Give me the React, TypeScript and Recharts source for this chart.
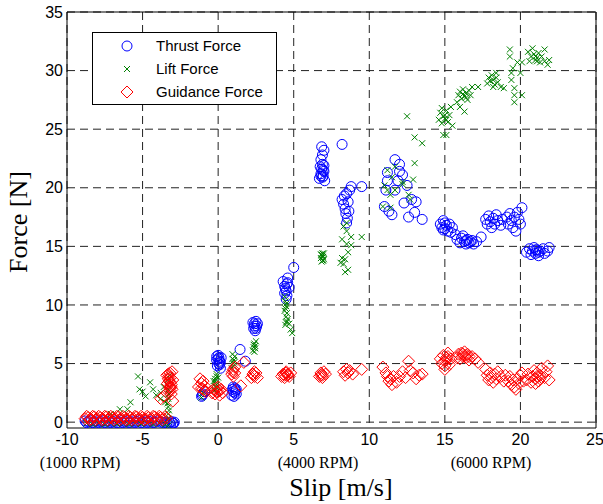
import {
  CartesianGrid,
  ReferenceLine,
  Scatter,
  ScatterChart,
  XAxis,
  YAxis,
} from "recharts";

// [slip m/s, force N]
const thrustForce: [number, number][] = [
  [-8.8, 0.1], [-8.6, 0.05], [-8.4, 0.12], [-8.2, 0.0], [-8.0, 0.1], [-7.8, 0.05],
  [-7.6, 0.12], [-7.4, 0.0], [-7.2, 0.1], [-7.0, 0.05], [-6.8, 0.1], [-6.6, 0.0],
  [-6.4, 0.12], [-6.2, 0.05], [-6.0, 0.1], [-5.8, 0.0], [-5.6, 0.1], [-5.4, 0.05],
  [-5.2, 0.12], [-5.0, 0.0], [-4.8, 0.1], [-4.6, 0.05], [-4.4, 0.1], [-4.2, 0.0],
  [-4.0, 0.1], [-3.8, 0.0], [-3.6, -0.05], [-3.4, -0.1], [-3.2, -0.05], [-3.0, -0.1],
  [-2.9, 0.0], [-3.1, 0.05], [-3.3, -0.15], [-3.5, 0.0], [-3.15, -0.2], [-2.95, -0.1],
  [-8.7, -0.05], [-8.3, -0.05], [-7.9, -0.05], [-7.5, -0.05], [-7.1, -0.05], [-6.7, -0.05],
  [-6.3, -0.05], [-5.9, -0.05], [-5.5, -0.05], [-5.1, -0.05], [-4.7, -0.05], [-4.3, -0.05],
  [-1.1, 2.2], [-1.0, 2.4], [-0.9, 2.6], [-1.05, 2.3],
  [-0.1, 5.6], [0.0, 5.4], [0.1, 5.2], [0.05, 5.0], [-0.05, 4.8], [0.15, 4.6],
  [0.0, 5.7], [0.2, 5.5], [0.1, 4.9], [-0.1, 5.3], [0.05, 5.5], [0.15, 5.1],
  [0.9, 2.3], [1.0, 2.6], [1.1, 2.9], [1.2, 2.4], [1.05, 2.2], [1.15, 2.7], [1.0, 3.0],
  [0.95, 2.8], [1.1, 2.5], [1.2, 2.8],
  [1.45, 6.2], [1.8, 5.2],
  [2.3, 8.5], [2.4, 8.2], [2.5, 8.0], [2.45, 7.8], [2.6, 8.4], [2.35, 8.0], [2.5, 8.6],
  [2.4, 8.4], [2.55, 8.2],
  [4.3, 12.0], [4.4, 11.6], [4.5, 11.2], [4.55, 10.8], [4.6, 12.3], [4.4, 11.0],
  [4.7, 11.5], [4.5, 10.5], [4.6, 11.9], [5.0, 13.2], [4.45, 11.4], [4.55, 11.8],
  [6.7, 20.8], [6.8, 21.2], [6.85, 21.6], [6.9, 22.0], [6.95, 21.0], [7.0, 21.4],
  [6.8, 22.4], [6.9, 22.8], [7.0, 23.2], [6.85, 23.5], [7.05, 20.6], [6.75, 21.8],
  [6.9, 20.9], [6.95, 21.5], [6.8, 21.0], [7.0, 21.9],
  [8.2, 23.7],
  [8.2, 19.0], [8.3, 18.6], [8.4, 18.2], [8.5, 19.5], [8.6, 18.8], [8.45, 17.8],
  [8.55, 17.4], [8.7, 19.8], [8.8, 20.1], [8.5, 17.0], [8.35, 19.3], [8.65, 18.0],
  [9.5, 20.1],
  [11.0, 18.4], [11.1, 19.8], [11.2, 20.6], [11.3, 18.0], [11.5, 17.7], [11.7, 19.8],
  [11.7, 22.4], [11.9, 20.6], [12.0, 21.4], [12.2, 21.1], [12.3, 18.7], [12.5, 20.2],
  [12.6, 17.5], [12.8, 19.0], [13.0, 17.9], [13.1, 18.8], [13.5, 17.3], [11.2, 21.3],
  [12.0, 22.0],
  [14.7, 16.9], [14.8, 16.6], [14.9, 17.2], [15.0, 16.5], [15.1, 16.8], [15.2, 16.3],
  [15.3, 16.9], [15.4, 16.2], [15.5, 16.6], [15.7, 16.0], [14.9, 16.4], [15.0, 17.0],
  [15.8, 15.6], [16.0, 15.3], [16.1, 15.7], [16.3, 15.4], [16.4, 15.2], [16.5, 15.6],
  [16.6, 15.3], [16.8, 15.5], [16.9, 15.2], [17.1, 15.4], [17.4, 15.8], [16.2, 15.9],
  [16.4, 15.5], [16.7, 15.4],
  [17.7, 17.3], [17.8, 16.9], [17.9, 17.6], [18.0, 17.1], [18.1, 16.6], [18.2, 17.4],
  [18.3, 16.9], [18.4, 17.7], [18.5, 17.2], [18.7, 16.8], [18.8, 17.3],
  [19.1, 17.5], [19.2, 16.9], [19.3, 17.8], [19.4, 17.2], [19.5, 16.6], [19.6, 17.5],
  [19.7, 16.3], [19.8, 17.9], [20.0, 16.9], [20.1, 18.3], [19.9, 17.3],
  [20.4, 14.5], [20.6, 14.8], [20.7, 14.3], [20.8, 14.6], [20.9, 14.9], [21.0, 14.4],
  [21.1, 14.7], [21.2, 14.2], [21.3, 14.6], [21.5, 14.8], [21.6, 14.4], [21.8, 14.6],
  [21.9, 14.9], [21.0, 14.7], [21.2, 14.5],
];

const liftForce: [number, number][] = [
  [-8.7, -0.1], [-8.3, -0.2], [-7.9, -0.1], [-7.5, -0.2], [-7.1, -0.1], [-6.7, -0.15],
  [-6.3, -0.1], [-5.9, -0.2], [-5.5, -0.1], [-5.1, -0.15], [-4.7, -0.1], [-4.3, -0.2],
  [-3.9, -0.1], [-3.5, -0.2], [-3.3, -0.3],
  [-7.1, 0.7], [-6.5, 1.1], [-6.0, 1.1], [-5.8, 1.7], [-5.3, 3.9], [-5.2, 2.8],
  [-5.0, 2.6], [-4.8, 2.2], [-4.5, 3.4], [-4.3, 2.8], [-4.1, 2.3], [-3.8, 2.5],
  [-3.8, 2.0], [-3.5, 1.7], [-3.6, 3.0],
  [-3.3, 0.3], [-3.3, 0.7], [-3.25, 1.0], [-3.3, 1.3], [-3.35, 1.6], [-3.3, 2.0],
  [-3.25, 2.4], [-3.3, 2.8], [-3.35, 3.2], [-3.3, 3.6], [-3.2, 4.0],
  [-1.0, 2.5], [-1.1, 2.1], [-0.3, 3.5], [-0.2, 3.7], [-0.1, 3.9], [-0.2, 3.3],
  [-0.15, 3.0], [-0.25, 2.7], [0.0, 3.8], [-0.1, 4.1], [-0.2, 3.5], [-0.1, 3.2],
  [0.9, 4.6], [1.0, 5.0], [1.05, 5.3], [1.1, 5.6], [0.95, 5.8], [1.0, 4.8],
  [1.05, 5.1], [0.95, 5.4],
  [2.3, 6.1], [2.35, 6.4], [2.4, 6.7], [2.45, 6.3], [2.5, 6.9], [2.4, 6.0],
  [2.35, 6.6], [2.45, 6.5],
  [4.4, 10.7], [4.45, 10.3], [4.5, 9.9], [4.4, 9.5], [4.5, 9.0], [4.55, 8.6],
  [4.45, 8.3], [4.6, 8.8], [4.7, 8.4], [4.8, 7.9], [4.9, 7.6], [4.5, 10.1],
  [4.45, 9.7], [4.55, 9.3], [4.5, 8.5],
  [6.8, 14.0], [6.85, 14.3], [6.9, 13.8], [6.95, 14.1], [7.0, 14.4], [6.85, 13.7],
  [6.9, 14.2], [6.8, 14.3], [7.0, 13.9], [6.95, 13.8], [6.9, 14.4],
  [8.5, 17.0], [8.3, 16.7], [8.2, 15.6], [8.5, 15.2], [8.8, 15.1], [8.2, 14.0],
  [8.4, 13.9], [8.3, 13.5], [8.6, 13.0], [8.1, 13.6], [8.8, 15.8], [9.5, 15.8],
  [8.5, 16.3], [8.6, 14.5], [8.4, 12.8],
  [12.5, 26.1], [13.0, 24.3], [13.5, 23.8], [13.0, 22.1], [12.9, 20.7], [11.2, 21.5],
  [11.7, 21.8], [11.2, 19.8], [11.4, 19.4], [12.2, 20.5], [12.2, 20.3], [11.7, 19.8],
  [12.6, 19.4], [12.7, 19.0], [10.9, 18.4], [11.4, 18.3], [11.0, 20.2], [11.5, 20.9],
  [14.6, 25.8], [14.7, 26.4], [14.8, 25.5], [14.9, 26.1], [15.0, 25.9], [15.1, 26.6],
  [15.2, 25.6], [15.3, 26.2], [15.5, 25.3], [14.8, 26.8], [14.9, 24.5], [15.1, 24.5],
  [15.4, 26.9], [15.0, 26.2], [15.1, 25.8],
  [15.8, 27.3], [15.9, 27.9], [16.0, 28.2], [16.1, 27.6], [16.2, 28.4], [16.3, 27.8],
  [16.4, 28.1], [16.5, 27.5], [16.6, 28.3], [16.7, 27.9], [16.8, 28.6], [16.3, 26.5],
  [16.0, 26.9], [17.2, 28.6], [16.2, 28.0], [16.4, 27.7],
  [17.8, 28.9], [17.9, 29.4], [18.0, 29.1], [18.1, 29.6], [18.2, 29.2], [18.3, 28.8],
  [18.4, 29.4], [18.5, 29.0], [18.7, 28.6], [18.9, 28.5], [18.4, 29.8], [18.2, 28.6],
  [19.3, 31.8], [19.3, 31.2], [19.4, 29.8], [19.4, 29.2], [19.6, 28.5], [19.6, 27.9],
  [19.6, 27.3], [20.1, 27.9], [19.8, 30.7], [20.1, 30.7], [20.0, 29.8], [19.5, 30.2],
  [20.5, 31.6], [20.6, 30.8], [20.7, 31.2], [20.8, 31.9], [20.9, 31.4], [21.0, 30.9],
  [21.1, 31.1], [21.2, 31.5], [21.3, 30.7], [21.4, 31.2], [21.6, 30.8], [21.6, 31.8],
  [21.8, 30.5], [21.9, 30.9], [21.0, 31.2], [21.1, 30.8],
];

const guidanceForce: [number, number][] = [
  [-8.8, 0.3], [-8.6, 0.4], [-8.4, 0.25], [-8.2, 0.45], [-8.0, 0.3], [-7.8, 0.4],
  [-7.6, 0.25], [-7.4, 0.45], [-7.2, 0.3], [-7.0, 0.4], [-6.8, 0.3], [-6.6, 0.45],
  [-6.4, 0.3], [-6.2, 0.4], [-6.0, 0.25], [-5.8, 0.4], [-5.6, 0.3], [-5.4, 0.45],
  [-5.2, 0.3], [-5.0, 0.4], [-4.8, 0.25], [-4.6, 0.4], [-4.4, 0.3], [-4.2, 0.45],
  [-4.0, 0.3], [-3.8, 0.4], [-3.6, 0.3], [-3.4, 0.35],
  [-8.7, 0.5], [-8.5, 0.2], [-8.3, 0.5], [-8.1, 0.2], [-7.9, 0.5], [-7.7, 0.2],
  [-7.5, 0.5], [-7.3, 0.2], [-7.1, 0.5], [-6.9, 0.2], [-6.7, 0.5], [-6.5, 0.2],
  [-6.3, 0.5], [-6.1, 0.2], [-5.9, 0.5], [-5.7, 0.2], [-5.5, 0.5], [-5.3, 0.2],
  [-5.1, 0.5], [-4.9, 0.2], [-4.7, 0.5], [-4.5, 0.2], [-4.3, 0.5], [-4.1, 0.2],
  [-3.9, 0.5], [-3.7, 0.2], [-3.5, 0.5],
  [-3.3, 2.6], [-3.2, 2.9], [-3.1, 3.2], [-3.25, 3.5], [-3.15, 3.8], [-3.3, 4.1],
  [-3.05, 4.3], [-3.2, 3.0], [-3.0, 3.6], [-3.35, 3.3], [-3.1, 2.4], [-3.8, 2.0],
  [-3.6, 2.2], [-3.0, 1.8], [-3.4, 4.0], [-3.2, 2.7], [-3.1, 3.0], [-3.25, 3.9],
  [-3.15, 3.4], [-3.05, 2.8], [-3.2, 4.2], [-3.3, 3.7],
  [-1.3, 3.0], [-1.2, 3.7], [-1.1, 3.3], [-1.0, 2.8], [-0.9, 3.1], [-0.8, 2.6], [-1.0, 3.5],
  [-1.1, 2.9], [-0.9, 2.7],
  [-0.4, 2.5], [-0.3, 2.8], [-0.2, 2.4], [-0.1, 2.9], [0.0, 2.6], [0.1, 2.3],
  [0.2, 2.8], [0.3, 2.5], [0.0, 3.0], [-0.1, 2.6], [0.1, 2.7],
  [0.9, 4.1], [1.0, 4.5], [1.1, 4.2], [1.0, 3.9], [1.1, 4.7], [0.95, 4.3],
  [1.5, 3.1], [1.7, 5.1],
  [2.2, 3.8], [2.3, 4.1], [2.4, 3.9], [2.5, 4.2], [2.6, 3.8], [2.4, 4.3], [2.35, 4.0],
  [4.2, 3.9], [4.3, 4.1], [4.4, 3.8], [4.5, 4.2], [4.6, 4.0], [4.7, 3.9], [4.8, 4.2],
  [4.5, 4.3], [4.4, 4.0], [4.6, 4.1],
  [6.7, 3.9], [6.8, 4.2], [6.9, 4.0], [7.0, 4.3], [6.9, 3.8], [7.1, 4.1], [6.8, 4.0],
  [8.3, 4.3], [8.4, 4.0], [8.5, 4.5], [8.6, 4.2], [8.7, 4.4], [8.9, 4.1], [9.5, 4.5],
  [10.9, 4.7], [11.1, 4.2], [11.3, 3.5], [11.4, 3.7], [11.5, 3.2], [11.6, 3.9],
  [11.8, 3.4], [12.0, 3.9], [12.2, 4.3], [12.4, 3.8], [12.6, 5.2], [12.7, 4.4],
  [12.9, 4.2], [13.1, 3.7], [13.3, 4.0], [13.5, 4.1], [11.2, 3.9],
  [14.7, 5.4], [14.8, 5.0], [14.9, 5.7], [15.0, 4.8], [15.1, 5.3], [15.2, 5.6],
  [15.3, 4.9], [15.4, 5.4], [15.0, 4.5], [15.2, 5.9], [15.0, 5.2], [15.1, 5.5],
  [15.8, 5.5], [15.9, 5.8], [16.0, 5.4], [16.1, 5.9], [16.2, 5.6], [16.3, 6.0],
  [16.4, 5.5], [16.5, 5.8], [16.6, 5.3], [16.8, 5.6], [17.0, 5.4], [17.2, 5.1],
  [16.2, 5.8], [16.4, 5.7], [16.6, 5.6],
  [17.7, 4.5], [17.8, 4.0], [17.9, 3.6], [18.0, 4.2], [18.1, 3.8], [18.2, 3.4],
  [18.3, 4.1], [18.4, 3.7], [18.5, 4.3], [18.7, 3.9], [18.9, 3.5], [19.0, 4.0],
  [19.2, 3.5], [19.3, 3.9], [19.4, 3.2], [19.5, 3.6], [19.6, 3.0], [19.7, 2.8],
  [19.8, 3.7], [19.9, 3.3], [20.0, 4.0], [20.2, 3.5], [20.1, 4.2],
  [20.4, 3.6], [20.5, 4.1], [20.7, 3.4], [20.8, 3.9], [20.9, 4.4], [21.0, 3.7],
  [21.1, 4.2], [21.2, 3.5], [21.3, 4.0], [21.4, 4.6], [21.6, 3.8], [21.7, 4.3],
  [21.9, 3.6], [21.8, 4.8], [21.0, 3.3], [21.1, 3.9], [21.3, 3.7],
];

const xTicks = [-10, -5, 0, 5, 10, 15, 20, 25];
const yTicks = [0, 5, 10, 15, 20, 25, 30, 35];
const seriesNames = ["Thrust Force", "Lift Force", "Guidance Force"];
const rpmLabels = ["(1000 RPM)", "(4000 RPM)", "(6000 RPM)"];

const BLUE = "#0000ff";
const GREEN = "#008000";
const RED = "#ff0000";

const toPoints = (arr: [number, number][]) => arr.map(([x, y]) => ({ x, y }));

const CircleMark = ({ cx, cy }: any) => (
  <circle cx={cx} cy={cy} r={5} fill="none" stroke={BLUE} strokeWidth={1} />
);

const CrossMark = ({ cx, cy }: any) => (
  <path
    d={`M${cx - 3},${cy - 3}L${cx + 3},${cy + 3}M${cx - 3},${cy + 3}L${cx + 3},${cy - 3}`}
    stroke={GREEN}
    strokeWidth={1}
    fill="none"
  />
);

const DiamondMark = ({ cx, cy }: any) => (
  <path
    d={`M${cx},${cy - 6}L${cx + 6},${cy}L${cx},${cy + 6}L${cx - 6},${cy}Z`}
    stroke={RED}
    strokeWidth={1}
    fill="none"
  />
);

const tickStyle = { fontFamily: "Liberation Sans, Arial", fontSize: 16, fill: "#000" };
const serif = "Liberation Serif, Times New Roman, serif";

export default function App() {
  return (
    <div
      style={{
        position: "absolute",
        left: 0,
        top: 0,
        width: 603,
        height: 504,
        background: "#fff",
      }}
    >
      <ScatterChart
        width={603}
        height={504}
        margin={{ top: 12, right: 7, bottom: 46, left: 17 }}
      >
        <CartesianGrid
          stroke="#222"
          strokeDasharray="8 5"
          horizontalValues={yTicks}
          verticalValues={xTicks}
        />
        <XAxis
          type="number"
          dataKey="x"
          domain={[-10, 25]}
          ticks={xTicks}
          allowDataOverflow
          height={30}
          tickLine={false}
          tickSize={0}
          tickMargin={6}
          axisLine={{ stroke: "#000" }}
          tick={tickStyle}
        />
        <YAxis
          type="number"
          dataKey="y"
          domain={[-0.5, 35]}
          ticks={yTicks}
          allowDataOverflow
          width={50}
          tickLine={false}
          tickSize={0}
          tickMargin={4}
          axisLine={{ stroke: "#000" }}
          tick={tickStyle}
        />
        <ReferenceLine x={25} stroke="#000" />
        <ReferenceLine y={35} stroke="#000" />
        <Scatter
          name={seriesNames[0]}
          data={toPoints(thrustForce)}
          shape={CircleMark}
          isAnimationActive={false}
        />
        <Scatter
          name={seriesNames[1]}
          data={toPoints(liftForce)}
          shape={CrossMark}
          isAnimationActive={false}
        />
        <Scatter
          name={seriesNames[2]}
          data={toPoints(guidanceForce)}
          shape={DiamondMark}
          isAnimationActive={false}
        />
      </ScatterChart>

      {/* legend box */}
      <div
        style={{
          position: "absolute",
          left: 92,
          top: 32,
          width: 183,
          height: 71,
          border: "1px solid #000",
          background: "#fff",
          fontFamily: "Liberation Sans, Arial",
          fontSize: 15,
        }}
      >
        <svg width={60} height={71} style={{ position: "absolute", left: 0, top: 0 }}>
          <CircleMark cx={34} cy={13} />
          <CrossMark cx={34} cy={36} />
          <DiamondMark cx={34} cy={59} />
        </svg>
        {seriesNames.map((name, i) => (
          <div
            key={name}
            style={{
              position: "absolute",
              left: 63,
              top: 13 + i * 23 - 9,
              lineHeight: "18px",
              whiteSpace: "nowrap",
            }}
          >
            {name}
          </div>
        ))}
      </div>

      {/* rpm notes under the x axis */}
      {rpmLabels.map((label, i) => (
        <div
          key={label}
          style={{
            position: "absolute",
            left: [80, 318, 491][i] - 60,
            width: 120,
            top: 454,
            textAlign: "center",
            fontFamily: serif,
            fontSize: 16,
            lineHeight: "18px",
          }}
        >
          {label}
        </div>
      ))}

      <div
        style={{
          position: "absolute",
          left: 241,
          width: 200,
          top: 474,
          textAlign: "center",
          fontFamily: serif,
          fontSize: 26,
          lineHeight: "28px",
        }}
      >
        Slip [m/s]
      </div>

      <div
        style={{
          position: "absolute",
          left: 19 - 100,
          width: 200,
          top: 222 - 14,
          textAlign: "center",
          fontFamily: serif,
          fontSize: 26,
          lineHeight: "28px",
          transform: "rotate(-90deg)",
        }}
      >
        Force [N]
      </div>
    </div>
  );
}
